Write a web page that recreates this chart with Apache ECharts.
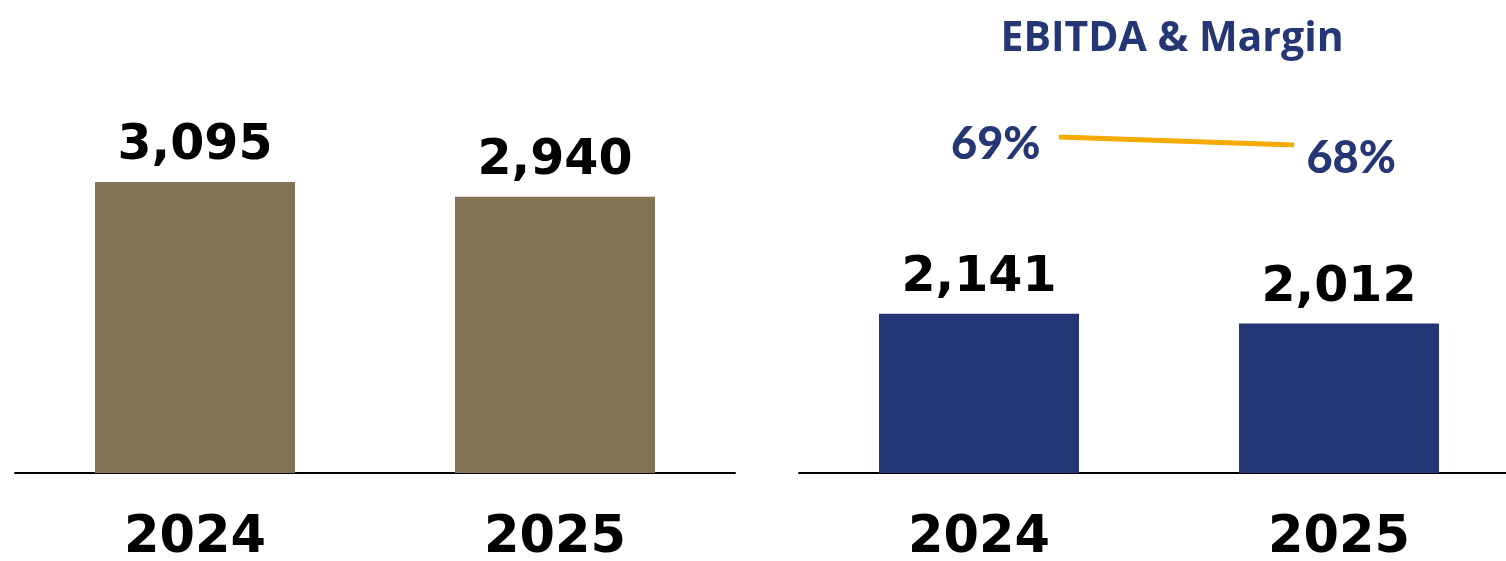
<!DOCTYPE html>
<html><head><meta charset="utf-8">
<script src="https://cdn.jsdelivr.net/npm/echarts@6/dist/echarts.min.js"></script>
<style>html,body{margin:0;padding:0;background:#fff}#c{width:1506px;height:561px}</style>
</head><body><div id="c"></div>
<script>
const years = ['2024', '2025'];
const revenue = [3095, 2940];
const ebitda = [2141, 2012];
const margin = [69, 68];
const title = 'EBITDA & Margin';

const chart = echarts.init(document.getElementById('c'), null, {renderer: 'canvas'});
const numFont = {fontFamily: 'DejaVu Sans', fontWeight: 'bold', fontSize: 49, color: '#000'};
const catAxis = (gi) => ({
  type: 'category', gridIndex: gi, data: years,
  axisLine: {lineStyle: {color: '#000', width: 2}},
  axisTick: {show: false},
  axisLabel: {fontFamily: 'DejaVu Sans', fontWeight: 'bold', fontSize: 51, color: '#000', margin: 40}
});
chart.setOption({
  animation: false,
  grid: [
    {left: 15, width: 720, top: 3, bottom: 88, outerBoundsMode: 'none', containLabel: false},
    {left: 799, width: 720, top: 27, bottom: 88, outerBoundsMode: 'none', containLabel: false},
    {left: 1059, width: 235, top: 137, bottom: 416, outerBoundsMode: 'none', containLabel: false}
  ],
  xAxis: [
    catAxis(0), catAxis(1),
    {type: 'category', gridIndex: 2, data: years, boundaryGap: false, show: false}
  ],
  yAxis: [
    {type: 'value', gridIndex: 0, min: 0, max: 5000, show: false},
    {type: 'value', gridIndex: 1, min: 0, max: 6000, show: false},
    {type: 'value', gridIndex: 2, min: 68, max: 69, show: false}
  ],
  graphic: [{
    type: 'text', x: 1172, y: 39,
    style: {text: title, fill: '#243673', font: 'bold 41px "Open Sans"', textAlign: 'center', textVerticalAlign: 'middle'}
  }],
  series: [
    {type: 'bar', xAxisIndex: 0, yAxisIndex: 0, data: revenue, barWidth: 200,
     itemStyle: {color: '#837354'},
     label: Object.assign({show: true, position: 'top', distance: 11,
       formatter: p => p.value.toLocaleString('en-US')}, numFont)},
    {type: 'bar', xAxisIndex: 1, yAxisIndex: 1, data: ebitda, barWidth: 200,
     itemStyle: {color: '#243673'},
     label: Object.assign({show: true, position: 'top', distance: 11,
       formatter: p => p.value.toLocaleString('en-US')}, numFont)},
    {type: 'line', xAxisIndex: 2, yAxisIndex: 2,
     symbol: 'circle', symbolSize: 1,
     lineStyle: {color: '#F5AA00', width: 5},
     itemStyle: {color: '#F5AA00'},
     label: {show: true, fontFamily: 'Lato', fontWeight: 900, fontSize: 45, color: '#243673',
       formatter: p => p.value + '%'},
     data: [
       {value: margin[0], label: {position: 'left', distance: 18, offset: [0, 7]}},
       {value: margin[1], label: {position: 'right', distance: 12, offset: [0, 13]}}
     ]}
  ]
});
</script></body></html>
